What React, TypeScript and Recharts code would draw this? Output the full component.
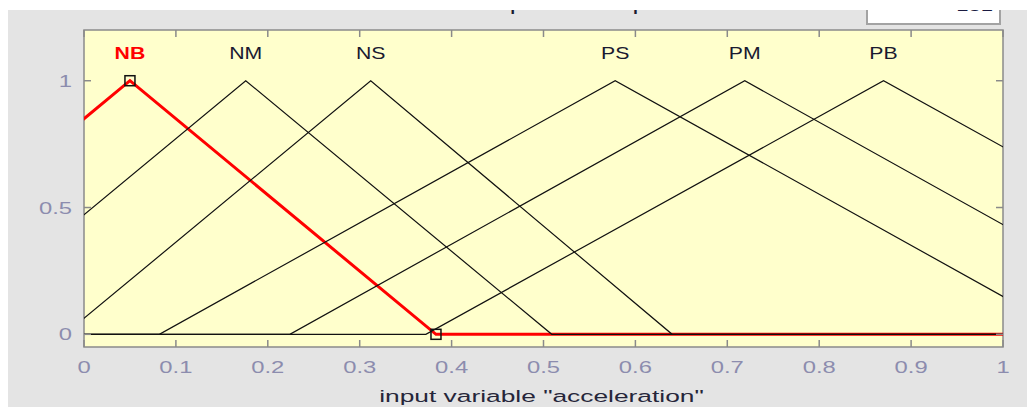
import React from 'react';
import { ComposedChart, Line, XAxis, YAxis, ReferenceArea, Scatter } from 'recharts';

// Triangular membership functions of the input "acceleration": [left foot, peak, right foot]
const mfNames = ['NB', 'NM', 'NS', 'PS', 'PM', 'PB'];
const mfLeft = [-0.283, -0.157, -0.021, 0.082, 0.224, 0.372];
const mfPeak = [0.05, 0.176, 0.312, 0.578, 0.719, 0.87];
const mfRight = [0.383, 0.509, 0.64, 1.074, 1.214, 1.368];
const selectedMf = 0;

const inputRange = [0, 1];
const yRange = [-0.05, 1.2];
const labelLevel = 1.11;

const xTicks = [0, 0.1, 0.2, 0.3, 0.4, 0.5, 0.6, 0.7, 0.8, 0.9, 1];
const xTickLabels = ['0', '0.1', '0.2', '0.3', '0.4', '0.5', '0.6', '0.7', '0.8', '0.9', '1'];
const yTicks = [0, 0.5, 1];
const yTickLabels = ['0', '0.5', '1'];

const W = 1027;
const H = 407;
const M = { top: 30, right: 24, left: 84, bottom: 60 };
const PLOT_TOP = M.top;
const PLOT_BOTTOM = H - M.bottom;
const PLOT_LEFT = M.left;
const PLOT_RIGHT = W - M.right;
const TICK_LEN = 7;
const FONT = 'Arial, "Liberation Sans", sans-serif';
const STRETCH = 1.4;

// Each function is traced across the whole input range, zero outside its support.
const series = mfNames.map((name, i) => {
  const pts: { x: number; y: number }[] = [];
  if (mfLeft[i] > inputRange[0]) pts.push({ x: inputRange[0], y: 0 });
  pts.push({ x: mfLeft[i], y: 0 }, { x: mfPeak[i], y: 1 }, { x: mfRight[i], y: 0 });
  if (mfRight[i] < inputRange[1]) pts.push({ x: inputRange[1], y: 0 });
  return { name, pts };
});

const labelPoints = mfNames.map((name, i) => ({ x: mfPeak[i], y: labelLevel, name, i }));

const XTick = (p: any) => {
  const i = xTicks.indexOf(p.payload.value);
  return (
    <g>
      <line x1={p.x} x2={p.x} y1={PLOT_BOTTOM} y2={PLOT_BOTTOM - TICK_LEN} stroke="#8a8a8a" strokeWidth={1.5} />
      <line x1={p.x} x2={p.x} y1={PLOT_TOP} y2={PLOT_TOP + TICK_LEN} stroke="#8a8a8a" strokeWidth={1.5} />
      <text
        transform={`translate(${p.x},${PLOT_BOTTOM + 26}) scale(${STRETCH},1)`}
        textAnchor="middle"
        fontFamily={FONT}
        fontSize={17}
        fill="#8c8cae"
      >
        {xTickLabels[i] ?? String(p.payload.value)}
      </text>
    </g>
  );
};

const YTick = (p: any) => {
  const i = yTicks.indexOf(p.payload.value);
  return (
    <g>
      <line x1={PLOT_LEFT} x2={PLOT_LEFT + TICK_LEN} y1={p.y} y2={p.y} stroke="#8a8a8a" strokeWidth={1.5} />
      <line x1={PLOT_RIGHT} x2={PLOT_RIGHT - TICK_LEN} y1={p.y} y2={p.y} stroke="#8a8a8a" strokeWidth={1.5} />
      <text
        transform={`translate(${PLOT_LEFT - 12},${p.y + 6}) scale(${STRETCH},1)`}
        textAnchor="end"
        fontFamily={FONT}
        fontSize={17}
        fill="#8c8cae"
      >
        {yTickLabels[i] ?? String(p.payload.value)}
      </text>
    </g>
  );
};

const MarkerDot = (p: any) => {
  const hit = p.payload && (p.payload.x === mfPeak[selectedMf] || p.payload.x === mfRight[selectedMf]);
  if (!hit) return <g key={`d-${p.index}`} />;
  return (
    <rect
      key={`d-${p.index}`}
      x={p.cx - 5}
      y={p.cy - 5}
      width={10}
      height={10}
      fill="none"
      stroke="#111"
      strokeWidth={1.5}
    />
  );
};

const NameLabel = (p: any) => {
  const sel = p.payload.i === selectedMf;
  return (
    <text
      transform={`translate(${p.cx},${p.cy + 6}) scale(1.25,1)`}
      textAnchor="middle"
      fontFamily={FONT}
      fontSize={17}
      fontWeight={sel ? 'bold' : 'normal'}
      fill={sel ? '#ff0000' : '#1a1a30'}
    >
      {p.payload.name}
    </text>
  );
};

export default function App() {
  const ordered = [series[selectedMf], ...series.filter((_, i) => i !== selectedMf)];
  return (
    <div style={{ position: 'absolute', left: 0, top: 0, width: W, height: H, background: '#fff', overflow: 'hidden' }}>
      <div style={{ position: 'absolute', left: 8, top: 10, right: 0, bottom: 0, background: '#e4e4e4' }} />
      <svg width={W} height={H} style={{ position: 'absolute', left: 0, top: 0 }}>
        <text transform="translate(378,10) scale(1.48,1)" fontFamily={FONT} fontSize={18} fill="#1a1a30">
          Membership function plots
        </text>
        <rect x={867} y={-6} width={133} height={30} fill="#fff" stroke="#a3a3a3" strokeWidth={2} />
        <text transform="translate(993,11) scale(1.3,1)" textAnchor="end" fontFamily={FONT} fontSize={17} fill="#1a1a40">
          181
        </text>
        <text
          transform={`translate(${(PLOT_LEFT + PLOT_RIGHT) / 2 - 2},402) scale(1.55,1)`}
          textAnchor="middle"
          fontFamily={FONT}
          fontSize={17}
          fill="#26263a"
        >
          input variable "acceleration"
        </text>
      </svg>
      <div style={{ position: 'absolute', left: 0, top: 0 }}>
        <ComposedChart width={W} height={H} margin={{ top: M.top, right: M.right, bottom: 0, left: 0 }}>
          <XAxis
            dataKey="x"
            type="number"
            domain={inputRange}
            ticks={xTicks}
            allowDataOverflow
            height={M.bottom}
            axisLine={false}
            tickLine={false}
            tickSize={0}
            tickMargin={0}
            tick={<XTick />}
            interval={0}
          />
          <YAxis
            type="number"
            domain={yRange}
            ticks={yTicks}
            allowDataOverflow
            width={M.left}
            axisLine={false}
            tickLine={false}
            tickSize={0}
            tickMargin={0}
            tick={<YTick />}
            interval={0}
          />
          <ReferenceArea
            x1={inputRange[0]}
            x2={inputRange[1]}
            y1={yRange[0]}
            y2={yRange[1]}
            fill="#ffffcc"
            fillOpacity={1}
            stroke="#8a8a8a"
            strokeWidth={1.5}
          />
          {ordered.map((s) => {
            const sel = s.name === mfNames[selectedMf];
            return (
              <Line
                key={s.name}
                data={s.pts}
                dataKey="y"
                type="linear"
                stroke={sel ? '#ff0000' : '#111'}
                strokeWidth={sel ? 3 : 1.2}
                dot={sel ? MarkerDot : false}
                activeDot={false}
                isAnimationActive={false}
              />
            );
          })}
          <Scatter data={labelPoints} dataKey="y" shape={NameLabel} isAnimationActive={false} />
        </ComposedChart>
      </div>
      <div style={{ position: 'absolute', left: 0, top: 0, width: W, height: 10, background: '#fff' }} />
    </div>
  );
}
